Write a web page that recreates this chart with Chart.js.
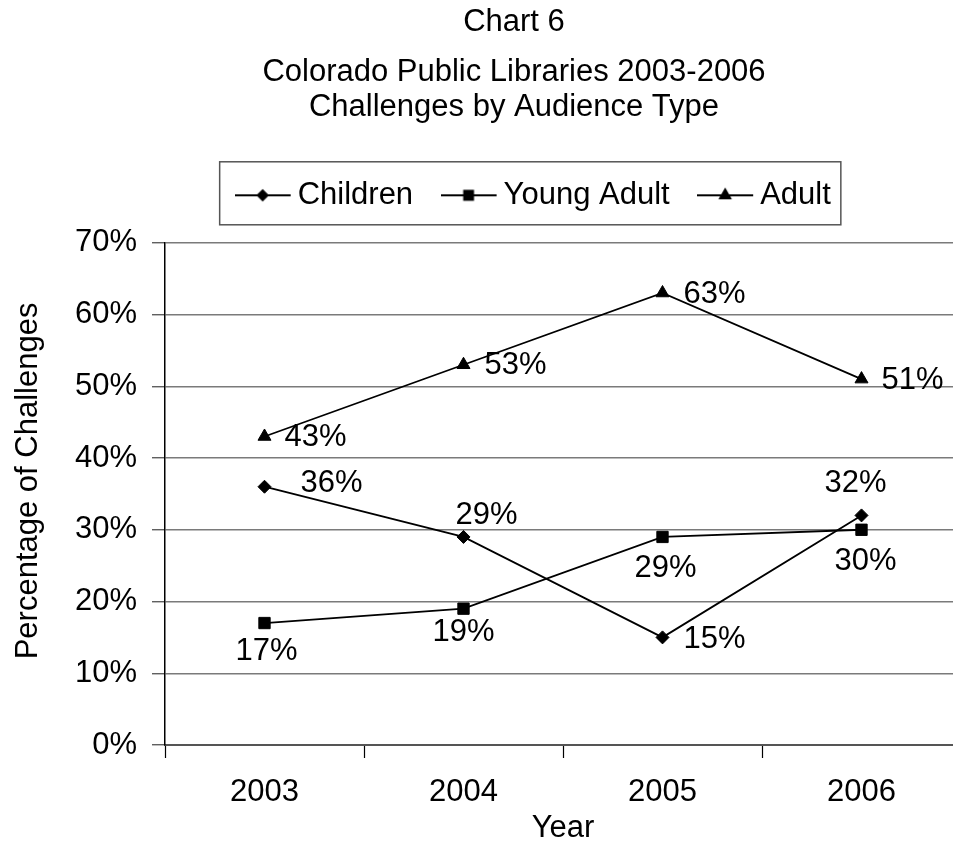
<!DOCTYPE html>
<html>
<head>
<meta charset="utf-8">
<script src="https://cdn.jsdelivr.net/npm/chart.js@4.4.1/dist/chart.umd.min.js"></script>
<style>
  html, body { margin: 0; padding: 0; background: #fff; overflow: hidden; }
  #wrap { width: 953px; height: 847px; overflow: hidden; position: relative; }
  #chart { position: absolute; left: 0; top: 0; }
</style>
</head>
<body>
<div id="wrap"><canvas id="chart" width="1028" height="847"></canvas></div>
<script>
// ---- data ----
const years = ['2003', '2004', '2005', '2006'];
const children = [36, 29, 15, 32];
const youngAdult = [17, 19, 29, 30];
const adult = [43, 53, 63, 51];
const yTicks = [0, 10, 20, 30, 40, 50, 60, 70];

// where each value label sits relative to its point (px)
const labelOffsets = [
    [[67, -3], [23, -21], [52, 2], [-6, -32]],
    [[2, 28], [0, 24], [3, 32], [4, 32]],
    [[51, 1], [52, 1], [52, 1], [51, 1]]
];

const FONT = "'Liberation Sans', Arial, sans-serif";
const FS = 31;
Chart.defaults.font.family = FONT;
Chart.defaults.font.size = FS;
Chart.defaults.color = '#000';

// legend sample: a short line with the marker on it
function legendIcon(style, radius) {
    const c = document.createElement('canvas');
    c.width = 64;
    c.height = 20;
    const ctx = c.getContext('2d');
    ctx.strokeStyle = '#000';
    ctx.fillStyle = '#000';
    ctx.lineWidth = 1.8;
    ctx.beginPath();
    ctx.moveTo(0, 10);
    ctx.lineTo(56, 10);
    ctx.stroke();
    Chart.helpers.drawPoint(ctx, { pointStyle: style, radius: radius, borderWidth: 1 }, 28, 10);
    return c;
}

const pointLabels = {
    id: 'pointLabels',
    afterDatasetsDraw(chart) {
        const ctx = chart.ctx;
        ctx.save();
        ctx.font = FS + 'px ' + FONT;
        ctx.fillStyle = '#000';
        ctx.textAlign = 'center';
        ctx.textBaseline = 'middle';
        chart.data.datasets.forEach((ds, i) => {
            chart.getDatasetMeta(i).data.forEach((pt, j) => {
                const off = labelOffsets[i][j];
                ctx.fillText(ds.data[j] + '%', pt.x + off[0], pt.y + off[1]);
            });
        });
        ctx.restore();
    }
};

// nudge the legend to the right like the original, and frame it
const legendFrame = {
    id: 'legendFrame',
    afterLayout(chart) {
        if (chart.legend) {
            chart.legend.left += 27;
            chart.legend.right += 27;
        }
    },
    afterDraw(chart) {
        const hb = chart.legend && chart.legend.legendHitBoxes;
        if (!hb || !hb.length) return;
        const first = hb[0], last = hb[hb.length - 1];
        const mid = first.top + first.height / 2;
        const x0 = first.left - 31.5;
        const x1 = last.left + last.width + 10;
        const ctx = chart.ctx;
        ctx.save();
        ctx.strokeStyle = '#555';
        ctx.lineWidth = 1.5;
        ctx.strokeRect(x0, mid - 33.5, x1 - x0, 63);
        ctx.restore();
    }
};

const datasets = [
    { label: 'Children', data: children, pointStyle: 'rectRot', pointRadius: 6.5, legendRadius: 5 },
    { label: 'Young Adult', data: youngAdult, pointStyle: 'rect', pointRadius: 8, legendRadius: 6.4 },
    { label: 'Adult', data: adult, pointStyle: 'triangle', pointRadius: 7.5, legendRadius: 6 }
].map(d => Object.assign(d, {
    borderColor: '#000',
    backgroundColor: '#000',
    pointBackgroundColor: '#000',
    pointBorderColor: '#000',
    pointBorderWidth: 1,
    borderWidth: 1.8,
    tension: 0,
    fill: false,
    xAxisID: 'x',
    yAxisID: 'y'
}));

new Chart(document.getElementById('chart'), {
    type: 'line',
    data: { labels: years, datasets: datasets },
    options: {
        responsive: false,
        animation: false,
        layout: { padding: 0 },
        plugins: {
            title: {
                display: true,
                text: 'Chart 6',
                color: '#000',
                font: { size: FS, weight: 'normal', lineHeight: 1.2 },
                padding: { top: 3.8, bottom: 13.6 }
            },
            subtitle: {
                display: true,
                text: ['Colorado Public Libraries 2003-2006', 'Challenges by Audience Type'],
                color: '#000',
                font: { size: FS, weight: 'normal', lineHeight: 1.145 },
                padding: { top: 0, bottom: 10.2 }
            },
            legend: {
                display: true,
                position: 'top',
                labels: {
                    usePointStyle: true,
                    boxWidth: FS,
                    pointStyleWidth: FS,
                    padding: 44,
                    color: '#000',
                    font: { size: FS },
                    generateLabels(chart) {
                        const items = Chart.defaults.plugins.legend.labels.generateLabels(chart);
                        items.forEach((it, i) => {
                            const ds = chart.data.datasets[i];
                            it.pointStyle = legendIcon(ds.pointStyle, ds.legendRadius);
                        });
                        return items;
                    }
                }
            },
            tooltip: { enabled: false }
        },
        scales: {
            x: {
                type: 'category',
                position: 'bottom',
                offset: true,
                grid: {
                    offset: true,
                    drawOnChartArea: false,
                    drawTicks: true,
                    tickLength: 13,
                    tickColor: '#000',
                    tickWidth: 1.2
                },
                border: { display: true, color: '#555', width: 2 },
                ticks: { color: '#000', font: { size: FS }, padding: 16, maxRotation: 0 },
                title: {
                    display: true,
                    text: 'Year',
                    color: '#000',
                    font: { size: FS },
                    padding: { top: 0, bottom: 0 }
                },
                afterFit(scale) { scale.height = 102; }
            },
            xTop: {
                type: 'linear',
                axis: 'x',
                position: 'top',
                display: true,
                grid: { display: false },
                border: { display: false },
                ticks: { display: false },
                afterFit(scale) { scale.height = 22; }
            },
            y: {
                type: 'linear',
                position: 'left',
                min: 0,
                max: 70,
                afterBuildTicks(scale) { scale.ticks = yTicks.map(v => ({ value: v })); },
                grid: {
                    color: '#7a7a7a',
                    lineWidth: 1.5,
                    tickLength: 13,
                    tickColor: '#444',
                    tickWidth: 1.2
                },
                border: { display: true, color: '#000', width: 1.5 },
                ticks: {
                    color: '#000',
                    font: { size: FS },
                    padding: 15,
                    callback: v => v + '%'
                },
                title: {
                    display: true,
                    text: '   Percentage of Challenges',
                    color: '#000',
                    font: { size: FS },
                    padding: { top: 9.7, bottom: 0 }
                },
                afterFit(scale) { scale.width = 165; }
            },
            yRight: {
                type: 'linear',
                axis: 'y',
                position: 'right',
                display: true,
                grid: { display: false },
                border: { display: false },
                ticks: { display: false },
                afterFit(scale) { scale.width = 67; }
            }
        }
    },
    plugins: [pointLabels, legendFrame]
});
</script>
</body>
</html>
